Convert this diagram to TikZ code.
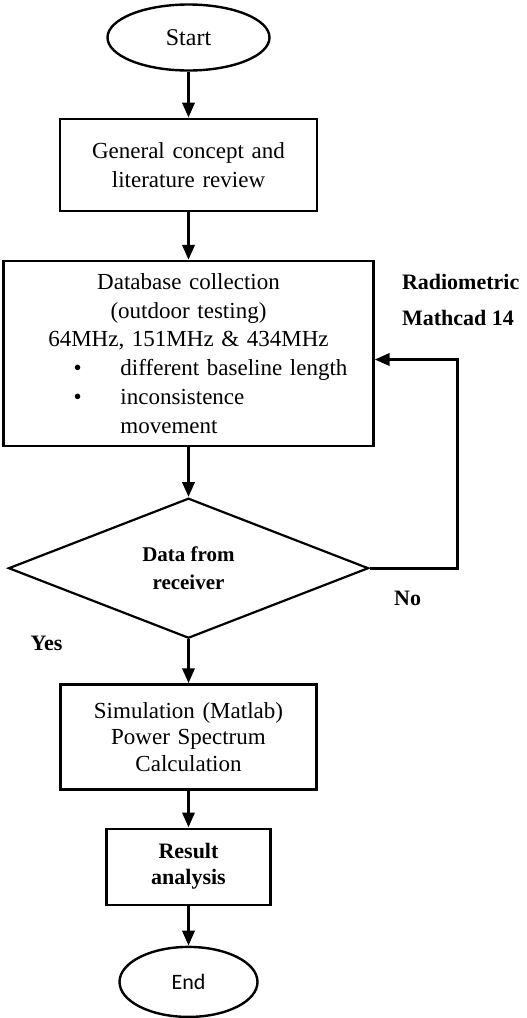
\documentclass[tikz,border=0pt]{standalone}
\usepackage{fontspec}
\setmainfont{Liberation Serif}
\newfontfamily\endfont{Carlito}
\usetikzlibrary{positioning,arrows.meta,shapes.geometric}

\newcommand{\itemline}[1]{\makebox[175pt][l]{\hspace{30pt}\makebox[23.5pt][l]{\textbullet}#1}}

\begin{document}
\begin{tikzpicture}[
  term/.style={draw, ellipse, line width=1.2pt, inner sep=0pt},
  box/.style={draw, line width=1.1pt, align=center, font=\fontsize{11.5}{14.5}\selectfont, inner sep=5pt},
  decision/.style={draw, diamond, line width=1.1pt, inner sep=0pt, align=center, font=\bfseries\fontsize{10.5}{13.5}\selectfont},
  lbl/.style={font=\bfseries\fontsize{11}{18}\selectfont, inner sep=0pt},
  arr/.style={-{Triangle[length=7.5pt, width=6pt]}, line width=1.7pt}]
  \useasboundingbox (0,0) rectangle (263pt,-509pt);
  \node[term, minimum width=81pt, minimum height=33pt, font=\fontsize{12}{14}\selectfont] (start) at (94.25pt,-18.75pt) {Start};
  \node[box, below=23pt of start, minimum height=46pt, text width=118.5pt] (concept) {General concept and\\literature review};
  \node[box, below=24pt of concept, minimum height=92.5pt, text width=175pt, font=\fontsize{11.5}{14.4}\selectfont] (db) {Database collection\\(outdoor testing)\\64MHz, 151MHz \& 434MHz\\
    \itemline{different baseline length}\\
    \itemline{inconsistence}\\
    \makebox[175pt][l]{\hspace{53.5pt}movement}};
  \node[decision, below=25pt of db, minimum width=180pt, minimum height=70pt] (data) {Data from\\receiver};
  \node[box, below=22pt of data, minimum height=52.5pt, text width=118pt, font=\fontsize{11.5}{13.3}\selectfont] (sim) {Simulation (Matlab)\\Power Spectrum\\Calculation};
  \node[box, below=18.5pt of sim, minimum height=38pt, text width=72pt, font=\bfseries\fontsize{11}{13}\selectfont] (res) {Result\\analysis};
  \node[term, below=20pt of res, minimum width=69pt, minimum height=35pt, font=\endfont\fontsize{11}{13}\selectfont] (end) {End};
  \node[lbl, anchor=north west, align=left] (tool) at ([xshift=13.5pt,yshift=-7pt]db.north east) {Radiometric\\Mathcad 14};
  \node[lbl] (no) at ([xshift=19pt,yshift=-15pt]data.east) {No};
  \node[lbl] (yes) at ([xshift=-71pt,yshift=-2pt]data.south) {Yes};
  \draw[arr] (start) -- (concept); \draw[arr] (concept) -- (db); \draw[arr] (db) -- (data);
  \draw[arr] (data) -- (sim); \draw[arr] (sim) -- (res); \draw[arr] (res) -- (end);
  \draw[arr] (data.east) -- ++(44pt,0) |- ([yshift=-3pt]db.east);
\end{tikzpicture}
\end{document}
